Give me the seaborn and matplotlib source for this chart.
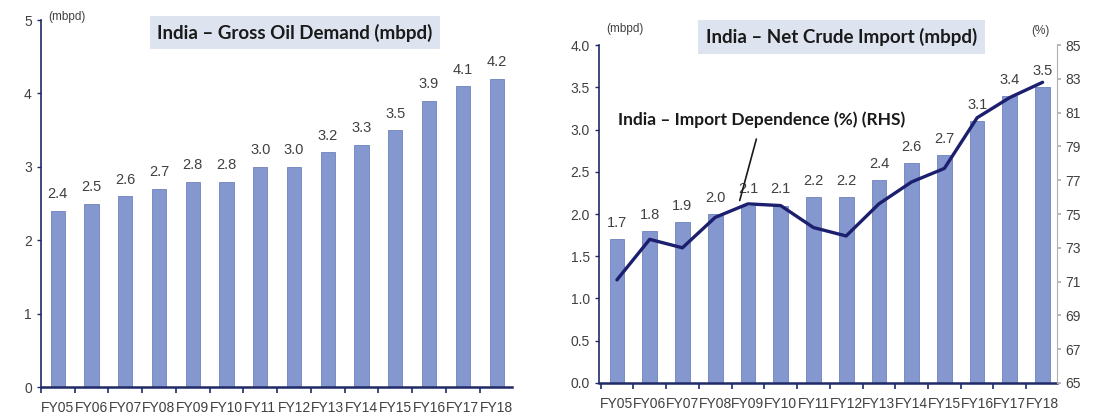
import numpy as np
import pandas as pd
import matplotlib
matplotlib.use('Agg')
import matplotlib.pyplot as plt
import seaborn as sns

# Data
years = ['FY05', 'FY06', 'FY07', 'FY08', 'FY09', 'FY10', 'FY11',
         'FY12', 'FY13', 'FY14', 'FY15', 'FY16', 'FY17', 'FY18']
gross_demand = [2.4, 2.5, 2.6, 2.7, 2.8, 2.8, 3.0, 3.0, 3.2, 3.3, 3.5, 3.9, 4.1, 4.2]
net_import = [1.7, 1.8, 1.9, 2.0, 2.1, 2.1, 2.2, 2.2, 2.4, 2.6, 2.7, 3.1, 3.4, 3.5]
import_dep = [71.1, 73.5, 73.0, 74.8, 75.6, 75.5, 74.2, 73.7, 75.6, 76.9, 77.7, 80.7, 81.9, 82.8]

sns.set_theme(style='white')
plt.rcParams['font.family'] = ['Liberation Sans Narrow', 'Liberation Sans', 'DejaVu Sans']

bar_color = '#8497cf'
axis_color = '#1f2a66'
line_color = '#1c1f6e'
tick_color = '#404040'
title_font = ['Lato', 'DejaVu Sans']
lab_size = 10

df = pd.DataFrame({'year': years, 'demand': gross_demand,
                   'imports': net_import, 'dep': import_dep})
df['pos'] = np.arange(len(years))

fig = plt.figure(figsize=(11.03, 4.18), dpi=100)
ax1 = fig.add_axes([0.037, 0.074, 0.427, 0.878])
ax2 = fig.add_axes([0.543, 0.084, 0.415, 0.808])


def style_bar_axis(ax, vals, width):
    ax.bar(df['pos'], vals, width=width, color=bar_color,
           edgecolor='#6f82bd', linewidth=0.6, zorder=2)
    ax.set_xticks(df['pos'])
    ax.set_xticklabels(years, fontsize=lab_size, color=tick_color)
    ax.set_xticks(np.arange(-0.5, len(years), 1.0), minor=True)
    ax.tick_params(axis='x', which='major', length=0, pad=10)
    ax.tick_params(axis='x', which='minor', length=4, color=axis_color,
                   width=1.2, direction='out', bottom=True)
    ax.tick_params(axis='y', length=3, color=axis_color, width=1,
                   direction='out', left=True, labelsize=lab_size,
                   labelcolor=tick_color)
    for s in ['top', 'right']:
        ax.spines[s].set_visible(False)
    ax.spines['left'].set_color(axis_color)
    ax.spines['left'].set_linewidth(1.2)
    ax.spines['bottom'].set_color(axis_color)
    ax.spines['bottom'].set_linewidth(1.8)
    ax.set_xlabel('')
    ax.set_ylabel('')


# Left chart: gross oil demand
style_bar_axis(ax1, df['demand'], 0.42)
ax1.set_xlim(-0.5, 13.45)
ax1.set_ylim(0, 5)
ax1.set_yticks([0, 1, 2, 3, 4, 5])
for x, v in zip(df['pos'], df['demand']):
    ax1.text(x, v + 0.13, f'{v:.1f}', ha='center', va='bottom',
             fontsize=lab_size + 0.5, color=tick_color)
ax1.text(0.015, 1.025, '(mbpd)', transform=ax1.transAxes, fontsize=8.5,
         color=tick_color, va='top', ha='left')
ax1.text(0.54, 0.966, 'India \u2013 Gross Oil Demand (mbpd)',
         transform=ax1.transAxes, ha='center', va='center', fontsize=13.5,
         fontweight='bold', family=title_font, color='#1a1a1a',
         bbox=dict(boxstyle='square,pad=0.4', fc='#dde4f0', ec='none'))

# Right chart: net crude import + import dependence
style_bar_axis(ax2, df['imports'], 0.45)
ax2.set_xlim(-0.55, 13.43)
ax2.set_ylim(0, 4.0)
ax2.set_yticks(np.arange(0, 4.01, 0.5))
ax2.set_yticklabels([f'{t:.1f}' for t in np.arange(0, 4.01, 0.5)])
for x, v in zip(df['pos'], df['imports']):
    ax2.text(x, v + 0.11, f'{v:.1f}', ha='center', va='bottom',
             fontsize=lab_size + 0.5, color=tick_color)
ax2.text(0.015, 1.065, '(mbpd)', transform=ax2.transAxes, fontsize=8.5,
         color=tick_color, va='top', ha='left')
ax2.text(0.53, 1.024, 'India \u2013 Net Crude Import (mbpd)',
         transform=ax2.transAxes, ha='center', va='center', fontsize=13.5,
         fontweight='bold', family=title_font, color='#1a1a1a',
         bbox=dict(boxstyle='square,pad=0.4', fc='#dde4f0', ec='none'))

ax3 = ax2.twinx()
sns.lineplot(x=df['pos'], y=df['dep'], ax=ax3, color=line_color,
             linewidth=2.4, zorder=3)
ax3.set_ylim(65, 85)
ax3.set_yticks(np.arange(65, 86, 2))
ax3.set_xlim(-0.55, 13.43)
ax3.set_xlabel('')
ax3.set_ylabel('')
for s in ['top', 'left', 'bottom']:
    ax3.spines[s].set_visible(False)
ax3.spines['right'].set_color('#b0b0b0')
ax3.spines['right'].set_linewidth(0.8)
ax3.tick_params(axis='y', length=3, color='#b0b0b0', direction='out',
                right=True, labelsize=lab_size, labelcolor=tick_color)
ax3.text(0.985, 1.06, '(%)', transform=ax3.transAxes, fontsize=8.5,
         color=tick_color, va='top', ha='right')

# Annotation for the line series
ax3.annotate('India \u2013 Import Dependence (%) (RHS)',
             xy=(3.75, 75.8), xytext=(4.42, 80.6),
             ha='center', va='center', fontsize=12.5, fontweight='bold',
             family=title_font, color='#1a1a1a',
             arrowprops=dict(arrowstyle='-', color='#1a1a1a', lw=1.2,
                             shrinkA=6, shrinkB=0))

fig.savefig('out.png', dpi=100)
